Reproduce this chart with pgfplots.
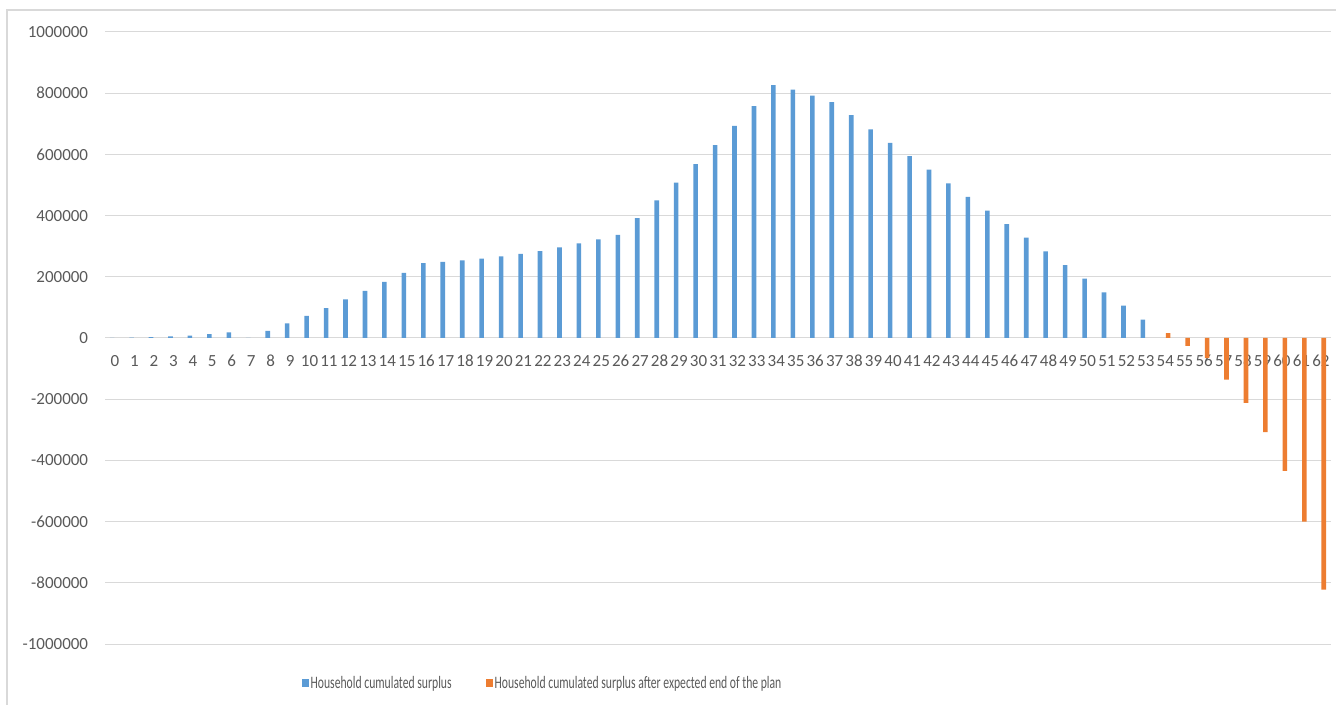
\documentclass[border=0pt]{standalone}
\usepackage{pgfplots}
\pgfplotsset{compat=1.18}
\usepackage{graphicx}
\usepackage{fontspec}
\setmainfont{Carlito}
\definecolor{xlblue}{RGB}{91,155,213}
\definecolor{xlorange}{RGB}{237,125,49}
\definecolor{gridgray}{RGB}{217,217,217}
\definecolor{labelgray}{RGB}{89,89,89}
\begin{document}
\begin{tikzpicture}
\useasboundingbox (0,0) rectangle (1336bp,705bp);
\draw[gridgray, line width=1.2bp] (7bp,0bp) -- (7bp,695bp) -- (1336bp,695bp);
\begin{axis}[
  at={(105.3bp,61bp)}, anchor=south west,
  scale only axis, width=1225.3bp, height=612bp,
  xmin=-0.5, xmax=62.5, ymin=-1000000, ymax=1000000,
  axis x line=middle, axis y line=left,
  x axis line style={-, draw=gridgray, line width=1bp},
  y axis line style={draw=none},
  hide obscured x ticks=false, hide obscured y ticks=false,
  xtick={0,...,62}, ytick={-1000000,-800000,...,1000000},
  major tick length=0pt,
  scaled y ticks=false,
  ymajorgrids, major grid style={gridgray, line width=1bp},
  /pgf/number format/assume math mode=true,
  yticklabel={\pgfmathprintnumber[fixed,precision=0,set thousands separator={}]{\tick}},
  tick label style={font=\fontsize{17bp}{21bp}\selectfont, text=labelgray, inner sep=0pt},
  xticklabel shift=17bp, yticklabel shift=17bp,
  legend style={at={(0.1605,-0.0637)}, anchor=west, draw=none, fill=none,
    legend columns=2, font=\fontsize{17.5bp}{21bp}\selectfont, text=labelgray,
    inner sep=0pt, nodes={inner sep=1.5bp},
    /tikz/every even column/.append style={column sep=33bp}},
]
\addplot[ybar, bar width=4.6bp, bar shift=-2.9bp, fill=xlblue, draw=none,
  legend image code/.code={\fill[xlblue] (0bp,-4bp) rectangle (7bp,4bp);}]
coordinates {
(0,0) (1,1000) (2,3000) (3,5000) (4,8000) (5,13000) (6,18000) (7,0)
(8,23000) (9,48000) (10,72000) (11,98000) (12,126000) (13,154000)
(14,183000) (15,213000) (16,245000) (17,249000) (18,254000) (19,259000)
(20,267000) (21,275000) (22,284000) (23,296000) (24,309000) (25,322000)
(26,337000) (27,392000) (28,450000) (29,508000) (30,568000) (31,630000)
(32,693000) (33,758000) (34,826000) (35,812000) (36,792000) (37,771000)
(38,728000) (39,682000) (40,638000) (41,594000) (42,550000) (43,505000)
(44,461000) (45,416000) (46,372000) (47,328000) (48,283000) (49,238000)
(50,194000) (51,149000) (52,106000) (53,60000)
};
\addlegendentry{\scalebox{0.667}[1]{Household cumulated surplus}}
\addplot[ybar, bar width=4.6bp, bar shift=2.9bp, fill=xlorange, draw=none,
  legend image code/.code={\fill[xlorange] (0bp,-4bp) rectangle (7bp,4bp);}]
coordinates {
(54,16000) (55,-26000) (56,-66000) (57,-136000) (58,-212000)
(59,-308000) (60,-434000) (61,-600000) (62,-822000)
};
\addlegendentry{\scalebox{0.667}[1]{Household cumulated surplus after expected end of the plan}}
\end{axis}
\end{tikzpicture}
\end{document}
